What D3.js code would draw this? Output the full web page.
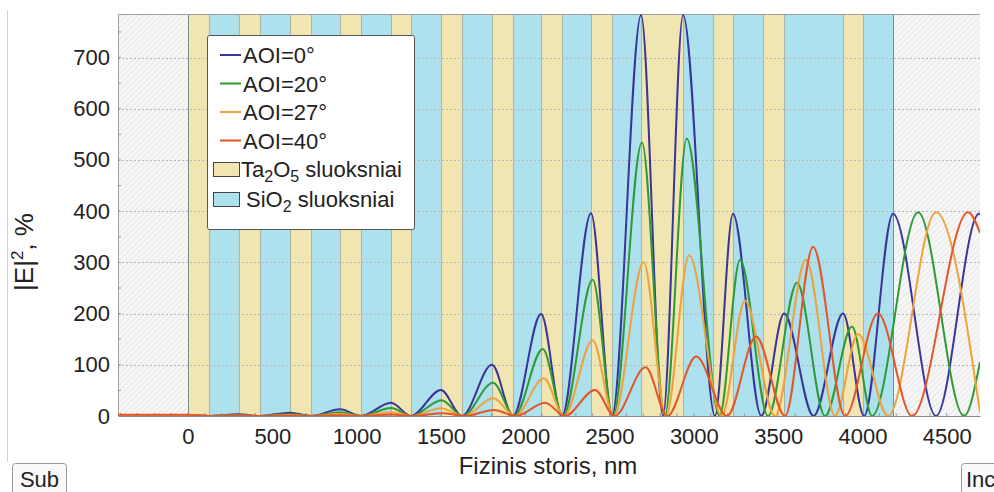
<!DOCTYPE html>
<html>
<head>
<meta charset="utf-8">
<script src="https://cdn.jsdelivr.net/npm/d3@7"></script>
<style>
body { margin: 0; background: #fff; }
text { font-family: "Liberation Sans", Arial, sans-serif; fill: #222; }
</style>
</head>
<body>
<div id="chart"></div>
<script>
// axis ticks
const xTicks = [0, 500, 1000, 1500, 2000, 2500, 3000, 3500, 4000, 4500];
const yTicks = [0, 100, 200, 300, 400, 500, 600, 700];

// layer boundaries (nm); even index = Ta2O5, odd = SiO2
const layerEdges = [0, 125, 302, 427, 605, 730, 902, 1026, 1204, 1323, 1500, 1625, 1803, 1928,
  2094, 2218, 2390, 2515, 2687, 2936, 3114, 3232, 3410, 3535, 3885, 4003, 4181];
const layerMaterial = ["Ta", "Si", "Ta", "Si", "Ta", "Si", "Ta", "Si", "Ta", "Si", "Ta", "Si", "Ta",
  "Si", "Ta", "Si", "Ta", "Si", "Ta", "Si", "Ta", "Si", "Ta", "Si", "Ta", "Si"];

// |E|^2 key points [nm, %]
const aoi0 = [[-415, 1.5], [0, 1.6], [125, 0], [302, 3.2], [427, 0], [605, 6.5], [730, 0], [902, 13],
  [1026, 0], [1204, 26], [1323, 0], [1500, 51], [1625, 0], [1803, 100], [1928, 0], [2094, 199],
  [2218, 0], [2390, 396], [2515, 0], [2687, 783], [2817, 0], [2936, 783], [3125, 0], [3232, 395],
  [3400, 0], [3535, 200], [3710, 0], [3885, 200], [4010, 0], [4181, 395], [4436, 0], [4691, 395], [4697, 394]];
const aoi20 = [[-415, 1.2], [0, 1.2], [127, 0], [302, 1.5], [430, 0], [605, 3.5], [733, 0], [902, 7.5],
  [1030, 0], [1204, 15.5], [1327, 0], [1503, 31], [1630, 0], [1809, 65], [1935, 0], [2104, 131],
  [2225, 0], [2400, 266], [2521, 0], [2692, 534], [2828, 0], [2958, 542], [3152, 0], [3274, 305],
  [3440, 0], [3612, 260], [3778, 0], [3938, 175], [4057, 0], [4330, 398], [4602, 0], [4697, 105]];
const aoi27 = [[-415, 1.5], [0, 1.5], [128, 0], [302, 0.8], [432, 0], [605, 1.8], [735, 0], [902, 3.8],
  [1032, 0], [1204, 7.5], [1330, 0], [1500, 15], [1635, 0], [1810, 34.5], [1940, 0], [2110, 73.6],
  [2230, 0], [2400, 148], [2525, 0], [2702, 300], [2835, 0], [2972, 314], [3165, 0], [3303, 225],
  [3481, 0], [3665, 305], [3837, 0], [3974, 160], [4152, 0], [4436, 398], [4697, 7]];
const aoi40 = [[-415, 2.5], [0, 2.5], [130, 0], [302, 0.5], [435, 0], [605, 0.8], [738, 0], [902, 1.5],
  [1035, 0], [1204, 3], [1335, 0], [1510, 5.5], [1640, 0], [1815, 11.7], [1945, 0], [2118, 26],
  [2235, 0], [2414, 51], [2530, 0], [2714, 95], [2843, 0], [3014, 116], [3197, 0], [3369, 155],
  [3541, 0], [3707, 330], [3897, 0], [4092, 200], [4294, 0], [4626, 398], [4697, 358]];

const seriesNames = ["AOI=0°", "AOI=20°", "AOI=27°", "AOI=40°"];
const seriesData = [aoi0, aoi20, aoi27, aoi40];
const seriesColors = ["#3a3598", "#2f9a35", "#eea23a", "#e2562a"];

const W = 994, H = 492;
const plot = { left: 118, right: 980, top: 14, bottom: 416 };

const svg = d3.select("#chart").append("svg")
  .attr("width", W)
  .attr("height", H);

const x = d3.scaleLinear().domain([-415, 4697]).range([plot.left, plot.right]);
const y = d3.scaleLinear().domain([0, 785]).range([plot.bottom, plot.top]);

const defs = svg.append("defs");
const pat = defs.append("pattern")
  .attr("id", "hatch")
  .attr("patternUnits", "userSpaceOnUse")
  .attr("width", 4).attr("height", 4)
  .attr("patternTransform", "rotate(45)");
pat.append("rect").attr("width", 4).attr("height", 4).attr("fill", "#f6f6f6");
pat.append("line").attr("x1", 0).attr("y1", 0).attr("x2", 0).attr("y2", 4)
  .attr("stroke", "#e0e0e0").attr("stroke-width", 1.2);

defs.append("clipPath").attr("id", "clip")
  .append("rect")
  .attr("x", plot.left).attr("y", plot.top)
  .attr("width", plot.right - plot.left).attr("height", plot.bottom - plot.top);

// outer frame line on the left
svg.append("line")
  .attr("x1", 7.5).attr("x2", 7.5).attr("y1", 10).attr("y2", 462)
  .attr("stroke", "#d0d0d0");

// substrate and incident medium
const lastEdge = layerEdges[layerEdges.length - 1];
svg.append("rect")
  .attr("x", x(-415)).attr("y", plot.top)
  .attr("width", x(0) - x(-415)).attr("height", plot.bottom - plot.top)
  .attr("fill", "url(#hatch)");
svg.append("rect")
  .attr("x", x(lastEdge)).attr("y", plot.top)
  .attr("width", x(4697) - x(lastEdge)).attr("height", plot.bottom - plot.top)
  .attr("fill", "url(#hatch)");

// coating layers
const layers = layerMaterial.map((m, i) => ({ m, x0: layerEdges[i], x1: layerEdges[i + 1] }));
svg.append("g").selectAll("rect")
  .data(layers)
  .enter().append("rect")
  .attr("x", d => x(d.x0))
  .attr("y", plot.top)
  .attr("width", d => x(d.x1) - x(d.x0))
  .attr("height", plot.bottom - plot.top)
  .attr("fill", d => d.m === "Ta" ? "#f1e5b2" : "#aee1ee");

svg.append("g").selectAll("line")
  .data(layerEdges.slice(1, -1))
  .enter().append("line")
  .attr("x1", d => x(d) + 0.5).attr("x2", d => x(d) + 0.5)
  .attr("y1", plot.top).attr("y2", plot.bottom)
  .attr("stroke", "#a9b3a2").attr("stroke-width", 1);

[0, lastEdge].forEach(v => {
  svg.append("line")
    .attr("x1", x(v) + 0.5).attr("x2", x(v) + 0.5)
    .attr("y1", plot.top).attr("y2", plot.bottom)
    .attr("stroke", "#7f8a8a").attr("stroke-width", 1);
});

// grid
svg.append("g").selectAll("line")
  .data(yTicks.slice(1))
  .enter().append("line")
  .attr("x1", plot.left).attr("x2", plot.right)
  .attr("y1", d => Math.round(y(d)) + 0.5).attr("y2", d => Math.round(y(d)) + 0.5)
  .attr("stroke", "#b8b8b8").attr("stroke-dasharray", "2,2");

// frame
svg.append("line")
  .attr("x1", plot.left).attr("x2", plot.right)
  .attr("y1", plot.top + 0.5).attr("y2", plot.top + 0.5)
  .attr("stroke", "#a0a0a0");
svg.append("line")
  .attr("x1", plot.left + 0.5).attr("x2", plot.left + 0.5)
  .attr("y1", plot.top).attr("y2", plot.bottom)
  .attr("stroke", "#a0a0a0");

// axes
const xAxis = svg.append("g")
  .attr("transform", `translate(0,${plot.bottom})`)
  .call(d3.axisBottom(x).tickValues(xTicks).tickSize(0).tickPadding(12).tickFormat(d3.format("d")));
xAxis.select(".domain").attr("stroke", "#888");
xAxis.selectAll("text").attr("font-size", 22).attr("fill", "#222")
  .attr("font-family", "Liberation Sans, Arial, sans-serif");

svg.append("g").selectAll("line")
  .data(d3.range(-400, 4700, 100))
  .enter().append("line")
  .attr("x1", d => x(d)).attr("x2", d => x(d))
  .attr("y1", plot.bottom).attr("y2", plot.bottom - 3)
  .attr("stroke", "#999");

const yAxis = svg.append("g")
  .attr("transform", `translate(${plot.left},0)`)
  .call(d3.axisLeft(y).tickValues(yTicks).tickSize(0).tickPadding(8));
yAxis.select(".domain").remove();
yAxis.selectAll("text").attr("font-size", 22).attr("fill", "#222")
  .attr("font-family", "Liberation Sans, Arial, sans-serif");

svg.append("g").selectAll("line")
  .data(d3.range(50, 785, 50))
  .enter().append("line")
  .attr("x1", plot.left).attr("x2", plot.left + 3)
  .attr("y1", d => y(d)).attr("y2", d => y(d))
  .attr("stroke", "#999");

// series
const line = d3.line()
  .x(d => x(d[0]))
  .y(d => y(d[1]))
  .curve(d3.curveMonotoneX);

svg.append("g").attr("clip-path", "url(#clip)")
  .selectAll("path")
  .data(seriesData)
  .enter().append("path")
  .attr("d", line)
  .attr("fill", "none")
  .attr("stroke", (d, i) => seriesColors[i])
  .attr("stroke-width", 2);

// axis titles
svg.append("text")
  .attr("x", 548).attr("y", 474)
  .attr("text-anchor", "middle")
  .attr("font-size", 24)
  .text("Fizinis storis, nm");

const yt = svg.append("text")
  .attr("transform", "translate(33,252) rotate(-90)")
  .attr("text-anchor", "middle")
  .attr("font-size", 26);
yt.append("tspan").text("|E|");
yt.append("tspan").attr("font-size", 17).attr("dy", -10).text("2");
yt.append("tspan").attr("dy", 10).text(", %");

// legend
const lg = svg.append("g");
lg.append("rect")
  .attr("x", 207.5).attr("y", 35.5).attr("width", 207).attr("height", 194)
  .attr("rx", 2)
  .attr("fill", "#fff").attr("stroke", "#555");

const rowY = [55, 83.5, 112, 140.5];
seriesNames.forEach((n, i) => {
  lg.append("line")
    .attr("x1", 220).attr("x2", 241)
    .attr("y1", rowY[i]).attr("y2", rowY[i])
    .attr("stroke", seriesColors[i]).attr("stroke-width", 2);
  lg.append("text")
    .attr("x", 243).attr("y", rowY[i] + 8)
    .attr("font-size", 22)
    .text(n);
});

lg.append("rect").attr("x", 213.5).attr("y", 162.5).attr("width", 26).attr("height", 14)
  .attr("fill", "#f1e5b2").attr("stroke", "#444");
const t1 = lg.append("text").attr("x", 241).attr("y", 177).attr("font-size", 22);
t1.append("tspan").text("Ta");
t1.append("tspan").attr("font-size", 16).attr("dy", 5).text("2");
t1.append("tspan").attr("dy", -5).text("O");
t1.append("tspan").attr("font-size", 16).attr("dy", 5).text("5");
t1.append("tspan").attr("dy", -5).text(" sluoksniai");

lg.append("rect").attr("x", 213.5).attr("y", 192.5).attr("width", 26).attr("height", 14)
  .attr("fill", "#aee1ee").attr("stroke", "#444");
const t2 = lg.append("text").attr("x", 246).attr("y", 207).attr("font-size", 22);
t2.append("tspan").text("SiO");
t2.append("tspan").attr("font-size", 16).attr("dy", 5).text("2");
t2.append("tspan").attr("dy", -5).text(" sluoksniai");

// Sub / Inc buttons
svg.append("rect").attr("x", 12.5).attr("y", 463.5).attr("width", 54).attr("height", 34)
  .attr("rx", 3).attr("fill", "#fafafa").attr("stroke", "#999");
svg.append("text").attr("x", 39.5).attr("y", 487).attr("text-anchor", "middle")
  .attr("font-size", 22).text("Sub");
svg.append("rect").attr("x", 961.5).attr("y", 463.5).attr("width", 50).attr("height", 34)
  .attr("rx", 3).attr("fill", "#fafafa").attr("stroke", "#999");
svg.append("text").attr("x", 966).attr("y", 487)
  .attr("font-size", 22).text("Inc");
</script>
</body>
</html>
